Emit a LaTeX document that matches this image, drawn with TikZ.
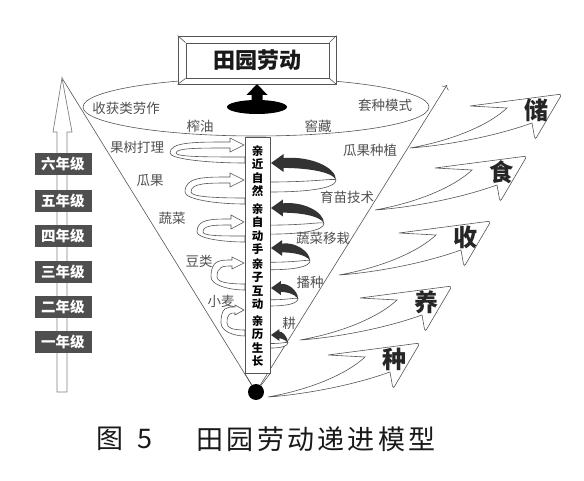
\documentclass[tikz,border=0pt]{standalone}
\usepackage{fontspec}
\setmainfont{Noto Sans CJK SC}
\usetikzlibrary{arrows.meta}
\definecolor{labelgray}{HTML}{505050}
\definecolor{linegray}{HTML}{555555}
\definecolor{boxgray}{HTML}{4F4F4F}
\definecolor{loopblack}{HTML}{333333}
\begin{document}
\begin{tikzpicture}[x=1pt,y=-1pt,>=stealth,
    every node/.style={inner sep=0pt,text=labelgray,font=\fontsize{13.5}{14}\selectfont},
    thin line/.style={draw=linegray,line width=0.6pt},
    grade/.style={fill=boxgray,text=white,minimum width=57pt,minimum height=22pt,font=\bfseries\fontsize{14.5}{15}\selectfont},
    stage/.style={text=black,align=center,font=\bfseries\fontsize{11.5}{13.3}\selectfont},
    bigchar/.style={text=black!85,font=\bfseries\fontsize{24}{24}\selectfont},
    swoosh/.pic={\draw[thin line,fill=white] (0,0) .. controls (45,-8) and (80,-24) .. (97,-40) -- (60,-42)
        [rounded corners=3pt] -- (152,-54) -- (125,-8) [sharp corners] -- (122,-25) .. controls (80,-10) and (30,-2) .. (0,0) -- cycle;}]
    \useasboundingbox (0,0) rectangle (584,481);
    % cone
    \node[circle,fill=black,minimum size=16pt] (dot) at (256,392) {};
    \coordinate (coneL) at (62,78);
    \coordinate (coneR) at (447,85);
    \draw[thin line] (dot) -- (coneL);
    \draw[thin line,-{To[length=4pt]}] (dot) -- (coneR);
    \draw[thin line] (256,107) ellipse [x radius=173pt,y radius=29pt];
    % title frame
    \node[draw=linegray,line width=0.8pt,fill=white,minimum width=158pt,minimum height=48pt] (frame) at (257,60) {};
    \node[draw=linegray,line width=0.8pt,minimum width=143pt,minimum height=35pt,text=black!90,font=\bfseries\fontsize{22}{22}\selectfont] (title) at (257.5,60.5) {田园劳动};
    \foreach \c in {north west,north east,south west,south east}
        \draw[thin line] (frame.\c) -- (title.\c);
    \fill (257,107) ellipse [x radius=30pt,y radius=7pt];
    \fill (251.5,101) -- (251.5,95) -- (246.5,95) -- (257,84) -- (267.5,95) -- (262.5,95) -- (262.5,101) -- cycle;
    % hollow loops, left
    \foreach \yt/\xl/\ym/\yb/\hl/\hh in {145/170/153/163/14/7, 180/185/192/204/14/7, 222/197/232/242/13/7, 263/211/277/290/12/6, 310/221/323/336/9/5}{
        \pgfmathsetmacro\hx{244-\hl}
        \pgfmathsetmacro\xm{\xl+0.5*(245-\xl)}
        \pgfmathsetmacro\yc{\ym+0.6*(\yb-\ym)}
        \pgfmathsetmacro\yd{\ym+0.4*(\yb-\ym)}
        \pgfmathsetmacro\xc{\xl+0.4*(\hx-\xl)}
        \pgfmathsetmacro\xi{\xl+6}
        \draw[thin line,fill=white] (245,\yb) .. controls (\xm,\yb) and (\xl,\yc) .. (\xl,\ym)
            .. controls (\xl,\yt-3) and (\xc,\yt-3) .. (\hx,\yt-3) -- (\hx,\yt-\hh) -- (244,\yt)
            -- (\hx,\yt+\hh) -- (\hx,\yt+3) .. controls (\xc+4,\yt+3) and (\xi,\yt+3) .. (\xi,\ym)
            .. controls (\xi,\yd) and (\xm,\yb-6) .. (245,\yb-6) -- cycle;
    }
    % black loops, right
    \foreach \ty/\w/\h/\a in {163/65/1/9, 208/53/.9/8.5, 248/39/.75/8, 288/27/.62/7, 335/17/.45/6}{
        \pgfmathsetmacro\xr{271+\w}
        \pgfmathsetmacro\xn{271+1.4*\a}
        \pgfmathsetmacro\ye{\ty+17*\h}
        \pgfmathsetmacro\yi{\ty+19*\h}
        \pgfmathsetmacro\yo{\ty+29*\h}
        \draw[thin line,fill=white] (270,\yi) .. controls (271+0.7*\w,\yi) and (\xr-2,\ty+15*\h) .. (\xr,\ye)
            .. controls (\xr,\ty+25*\h) and (271+0.6*\w,\yo) .. (270,\yo) -- cycle;
        \fill[loopblack] (271,\ty) -- (\xn,\ty-\a) -- (\xn,\ty-0.55*\a)
            .. controls (271+0.6*\w,\ty-0.8*\a) and (\xr,\ty+4*\h) .. (\xr,\ye)
            .. controls (\xr-4,\ty+8*\h) and (271+0.5*\w,\ty+0.55*\a) .. (\xn,\ty+0.55*\a)
            -- (\xn,\ty+\a) -- cycle;
    }
    % column
    \node[draw=linegray,line width=0.6pt,fill=white,minimum width=25pt,minimum height=236pt] (column) at (257.5,255) {};
    \draw[thin line] (dot) -- (column.south west);
    \draw[thin line] (dot) -- (column.south east);
    \node[stage] (near) at (257.5,171) {亲\\近\\自\\然};
    \node[stage] (hands) at (257.5,229) {亲\\自\\动\\手};
    \node[stage] (family) at (257.5,284) {亲\\子\\互\\动};
    \node[stage] (growth) at (257.5,341) {亲\\历\\生\\长};
    % grade arrow
    \draw[draw=gray,line width=0.7pt,fill=white] (57,392) -- (57,132) -- (53,132) -- (coneL) -- (72,132) -- (67,132) -- (67,392) -- cycle;
    \foreach \y/\t/\nm in {164/六年级/g6, 201/五年级/g5, 236/四年级/g4, 272/三年级/g3, 307/二年级/g2, 342/一年级/g1}
        \node[grade] (\nm) at (63,\y) {\t};
    % labels
    \node (harvest) at (126,108) {收获类劳作};
    \node (oil) at (200,126) {榨油};
    \node (orchard) at (137,147) {果树打理};
    \node (melonL) at (150,180) {瓜果};
    \node (veg) at (172,218) {蔬菜};
    \node (beans) at (199,261) {豆类};
    \node (wheat) at (221,301) {小麦};
    \node (intercrop) at (385,105) {套种模式};
    \node (cellar) at (318,126) {窖藏};
    \node (melonR) at (370,150) {瓜果种植};
    \node (seedling) at (347,197) {育苗技术};
    \node (transplant) at (323,238) {蔬菜移栽};
    \node (sow) at (310,282) {播种};
    \node (plough) at (289,323) {耕};
    % swooshes
    \foreach \tx/\tz/\ch/\nm in {410/148/储/chu, 375/210/食/shi, 339/275/收/shou, 300/340/养/yang, 268/397/种/zhong}{
        \pic at (\tx,\tz) {swoosh};
        \node[bigchar] (\nm) at (\tx+126,\tz-38) {\ch};
    }
    % caption
    \node[text=black!90,font=\fontsize{27}{27}\selectfont] (figword) at (110,439) {图};
    \node[text=black!90,font=\fontsize{27}{27}\selectfont] (fignum) at (145,439) {5};
    \node[text=black!90,font=\fontsize{27}{27}\selectfont\addfontfeature{LetterSpace=12}] (caption) at (316,439) {田园劳动递进模型};
\end{tikzpicture}
\end{document}
